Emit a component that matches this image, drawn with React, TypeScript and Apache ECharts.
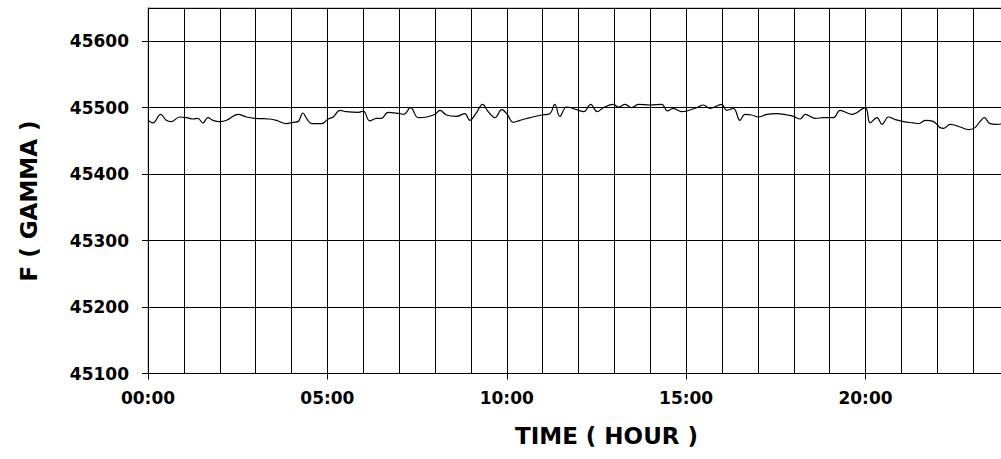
import React, { useEffect, useRef } from "react";
import * as echarts from "echarts";

const hours: number[] = [
  0, 0.14, 0.35, 0.51, 0.65, 0.88, 1.07, 1.26, 1.39, 1.53, 1.67, 1.81, 2.0, 2.19, 2.51, 2.74, 2.98, 3.39, 3.58, 3.86,
  4.05, 4.18, 4.32, 4.42, 4.56, 4.84, 5.02, 5.16, 5.35, 5.53, 5.86,
  6.0, 6.18, 6.37, 6.51, 6.69, 7.02, 7.13, 7.32, 7.53, 7.77, 8.0, 8.14, 8.32, 8.6, 8.83, 8.97, 9.14, 9.33, 9.48, 9.67,
  9.86, 10.0, 10.18, 10.37, 10.65, 10.97, 11.2, 11.34,
  11.48, 11.67, 11.95, 12.15, 12.34, 12.52, 12.69, 12.97, 13.11, 13.3, 13.48, 13.67, 13.99, 14.32, 14.48, 14.64, 14.88,
  15.02, 15.3, 15.48, 15.67, 15.99, 16.13, 16.32, 16.5, 16.64, 16.83, 17.02, 17.25,
  17.53, 17.81, 17.99, 18.18, 18.32, 18.6, 18.83, 19.11, 19.29, 19.62, 19.99, 20.13, 20.32, 20.46, 20.64, 20.83, 21.06,
  21.34, 21.48, 21.67, 21.9, 22.08, 22.18, 22.36, 22.64, 22.87, 23.05, 23.19, 23.31, 23.47, 23.66, 23.85,
];

const fieldGamma: number[] = [
  45481, 45477, 45490, 45481, 45479, 45486, 45485, 45483, 45484, 45477, 45485, 45481, 45479, 45481, 45490, 45486, 45484,
  45483, 45481, 45476, 45478, 45479, 45492, 45484, 45476, 45476, 45483, 45486, 45496, 45494, 45493,
  45495, 45480, 45484, 45484, 45493, 45491, 45490, 45500, 45485, 45486, 45490, 45496, 45489, 45487, 45491, 45481, 45491,
  45505, 45494, 45485, 45497, 45491, 45478, 45481, 45485, 45489, 45491, 45505,
  45487, 45501, 45497, 45494, 45505, 45494, 45500, 45505, 45501, 45505, 45500, 45505, 45504, 45505, 45495, 45499, 45494,
  45495, 45500, 45504, 45499, 45505, 45496, 45499, 45481, 45490, 45489, 45486, 45490,
  45491, 45489, 45487, 45483, 45490, 45484, 45485, 45485, 45496, 45490, 45500, 45477, 45485, 45475, 45486, 45482, 45479,
  45477, 45476, 45481, 45479, 45470, 45469, 45475, 45471, 45467, 45470, 45479, 45485, 45476, 45475, 45476,
];

const xTitle = "TIME ( HOUR )";
const yTitle = "F ( GAMMA )";
const yMin = 45100;
const yMax = 45650;
const yStep = 100;
const xMin = 0;
const xMax = 24;
const labelStep = 5;

const fmtHour = (v: number) => (v < 10 ? "0" : "") + Math.round(v) + ":00";

export default function App() {
  const ref = useRef<HTMLDivElement>(null);
  useEffect(() => {
    if (!ref.current) return;
    const chart = echarts.init(ref.current, null, { renderer: "svg" });
    const font = "DejaVu Sans";
    chart.setOption({
      animation: false,
      backgroundColor: "#fff",
      grid: {
        left: 148,
        top: 8,
        right: 1,
        bottom: 85.5,
        show: true,
        borderColor: "#999",
        borderWidth: 1,
      },
      xAxis: [
        {
          type: "value",
          min: xMin,
          max: xMax,
          interval: labelStep,
          axisLine: { show: true, lineStyle: { color: "#000", width: 1 } },
          axisTick: { show: true, length: 6, lineStyle: { color: "#000" } },
          splitLine: { show: false },
          axisLabel: {
            margin: 16,
            fontFamily: font,
            fontWeight: "bold",
            fontSize: 17,
            color: "#000",
            showMaxLabel: false,
            formatter: (v: number) => fmtHour(v),
          },
        },
        {
          type: "value",
          min: xMin,
          max: xMax,
          interval: 1,
          position: "bottom",
          axisLine: { show: false },
          axisTick: { show: false },
          axisLabel: { show: false },
          splitLine: { show: true, lineStyle: { color: "#000", width: 1 } },
        },
      ],
      yAxis: {
        type: "value",
        min: yMin,
        max: yMax,
        interval: yStep,
        axisLine: { show: true, lineStyle: { color: "#000", width: 1 } },
        axisTick: { show: true, length: 6, lineStyle: { color: "#000" } },
        splitLine: { show: true, lineStyle: { color: "#000", width: 1 } },
        axisLabel: {
          margin: 19,
          fontFamily: font,
          fontWeight: "bold",
          fontSize: 17,
          color: "#000",
          showMaxLabel: false,
          formatter: (v: number) => String(v),
        },
      },
      graphic: [
        {
          type: "text",
          x: 515,
          y: 436,
          style: {
            text: xTitle,
            fill: "#000",
            font: `bold 23px "${font}"`,
            textAlign: "left",
            textVerticalAlign: "middle",
          },
        },
        {
          type: "text",
          x: 28.5,
          y: 201,
          rotation: Math.PI / 2,
          style: {
            text: yTitle,
            fill: "#000",
            font: `bold 23px "${font}"`,
            textAlign: "center",
            textVerticalAlign: "middle",
          },
        },
      ],
      series: [
        {
          type: "line",
          xAxisIndex: 0,
          data: hours.map((h, i) => [h, fieldGamma[i]]),
          showSymbol: false,
          smooth: 0.4,
          lineStyle: { color: "#000", width: 1.2 },
        },
      ],
    });
    return () => chart.dispose();
  }, []);
  return (
    <div style={{ position: "fixed", left: 0, top: 0, width: 1001, height: 459, overflow: "hidden", background: "#fff" }}>
      <div ref={ref} style={{ width: 1010, height: 459 }} />
    </div>
  );
}
